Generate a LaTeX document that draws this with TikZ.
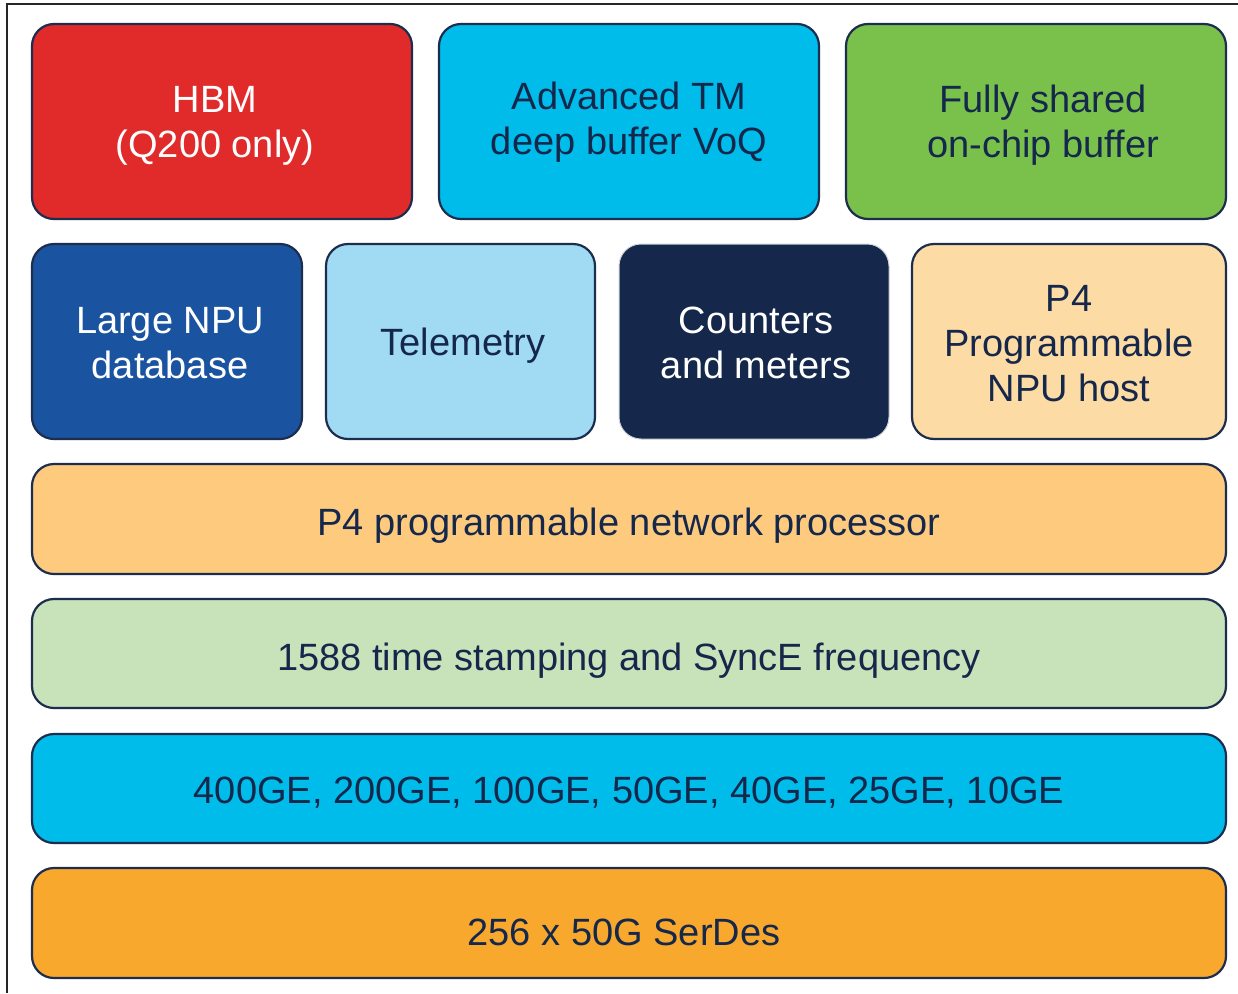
\documentclass[tikz,border=0pt]{standalone}
\usepackage{fontspec}
\setmainfont{Liberation Sans}
\definecolor{navy}{HTML}{15284B}
\definecolor{edge}{HTML}{1C2D4E}
\definecolor{cred}{HTML}{E12A2A}
\definecolor{ccyan}{HTML}{00BCEB}
\definecolor{cgreen}{HTML}{79C14B}
\definecolor{cblue}{HTML}{1A53A0}
\definecolor{clight}{HTML}{A0DBF3}
\definecolor{cpeach}{HTML}{FDDBA4}
\definecolor{corange}{HTML}{FDCA7E}
\definecolor{csage}{HTML}{C8E2BA}
\definecolor{camber}{HTML}{F8A82C}
\begin{document}
\begin{tikzpicture}[x=1pt,y=-1pt,
  blk/.style={draw=edge,line width=2.2pt,rounded corners=22pt},
  lbl/.style={font=\fontsize{38}{45}\selectfont,align=center,text=navy},
  wlbl/.style={lbl,text=white}]
\useasboundingbox (0,0) rectangle (1238,993);
\fill[white] (0,0) rectangle (1238,993);
\draw[line width=2.5pt,color=black!85] (7,993) -- (7,4) -- (1238,4);
% row 1
\draw[blk,fill=cred] (32,24) rectangle (412,219);
\node[wlbl] (hbm) at (215,126) {HBM\\(Q200 only)};
\draw[blk,fill=ccyan] (439,24) rectangle (819,219);
\node[lbl] (tm) at (629,122) {Advanced TM\\deep buffer VoQ};
\draw[blk,fill=cgreen] (846,24) rectangle (1226,219);
\node[lbl] (fsb) at (1043,125) {Fully shared\\on-chip buffer};
% row 2
\draw[blk,fill=cblue] (32,244) rectangle (302,439);
\node[wlbl] (npu) at (170,343) {Large NPU\\database};
\draw[blk,fill=clight] (326,244) rectangle (595,439);
\node[lbl] (tel) at (463,346) {Telemetry};
\draw[blk,draw=white!80!navy,line width=1pt,fill=navy] (619,244) rectangle (889,439);
\node[wlbl] (cnt) at (756,343) {Counters\\and meters};
\draw[blk,fill=cpeach] (912,244) rectangle (1226,439);
\node[lbl] (host) at (1069,344) {P4\\Programmable\\NPU host};
% rows 3-6
\draw[blk,fill=corange] (32,464) rectangle (1226,574);
\node[lbl] (np) at (629,526) {P4 programmable network processor};
\draw[blk,fill=csage] (32,599) rectangle (1226,708);
\node[lbl] (ts) at (629,661) {1588 time stamping and SyncE frequency};
\draw[blk,fill=ccyan] (32,734) rectangle (1226,843);
\node[lbl] (ge) at (629,793) {400GE, 200GE, 100GE, 50GE, 40GE, 25GE, 10GE};
\draw[blk,fill=camber] (32,868) rectangle (1226,978);
\node[lbl] (sd) at (624,932) {256 x 50G SerDes};
\end{tikzpicture}
\end{document}
